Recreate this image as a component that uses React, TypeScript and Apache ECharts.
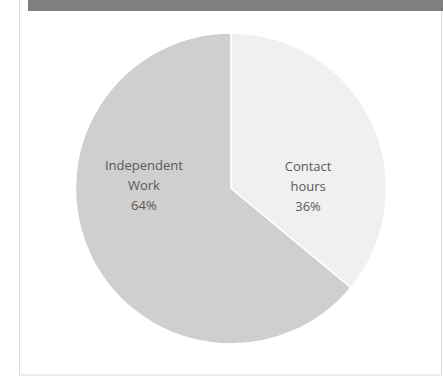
import React, { useEffect, useRef } from "react";
import * as echarts from "echarts";

const categories = ["Contact\nhours", "Independent\nWork"];
const values = [36, 64];
const colors = ["#f0f0f0", "#d0cece"];
const labelShift = [
  { dx: 4, dy: 32 },
  { dx: -14, dy: -38 },
];

export default function App() {
  const ref = useRef<HTMLDivElement>(null);
  useEffect(() => {
    document.body.style.margin = "0";
    const chart = echarts.init(ref.current!, null, { renderer: "svg" });
    chart.setOption({
      animation: false,
      backgroundColor: "#ffffff",
      graphic: [
        {
          type: "rect",
          shape: { x: 19.5, y: -2, width: 422, height: 377 },
          style: { fill: "none", stroke: "#d9d9d9", lineWidth: 1 },
          z: 0,
        },
        {
          type: "rect",
          shape: { x: 28, y: 0, width: 415, height: 11 },
          style: { fill: "#7f7f7f" },
          z: 1,
        },
      ],
      series: [
        {
          type: "pie",
          center: [231, 188.5],
          radius: [0, 155.5],
          startAngle: 90,
          clockwise: true,
          data: categories.map((c, i) => ({
            name: c,
            value: values[i],
            itemStyle: { color: colors[i] },
          })),
          itemStyle: { borderColor: "#ffffff", borderWidth: 1.5 },
          label: {
            show: true,
            position: "inside",
            formatter: (p: any) => `${p.name}\n${p.value}%`,
            color: "#595959",
            fontFamily: "Open Sans",
            fontSize: 13,
            lineHeight: 20,
            align: "center",
          },
          labelLine: { show: false },
          labelLayout: (p: any) => labelShift[p.dataIndex],
          emphasis: { disabled: true },
        },
      ],
    });
    return () => chart.dispose();
  }, []);
  return <div ref={ref} style={{ width: 443, height: 376 }} />;
}
